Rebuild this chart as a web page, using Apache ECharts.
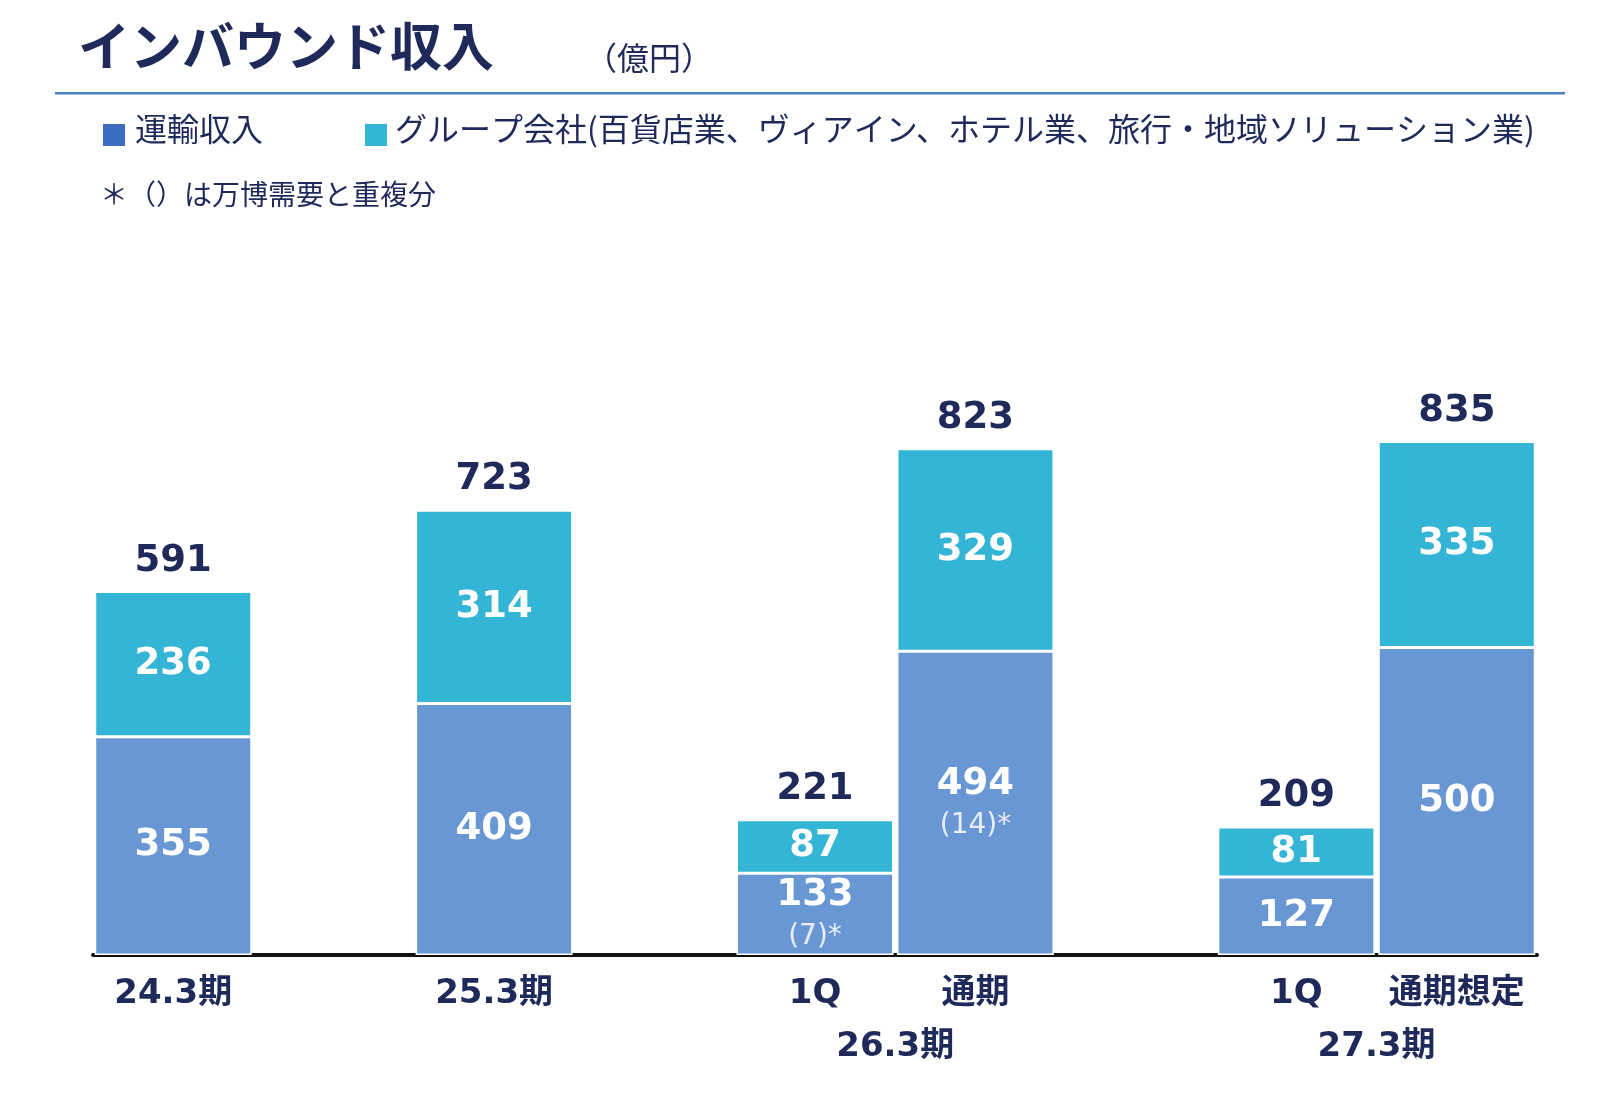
<!DOCTYPE html>
<html><head><meta charset="utf-8">
<script src="https://cdn.jsdelivr.net/npm/echarts@6/dist/echarts.min.js"></script>
<style>html,body{margin:0;background:#fff}#c{width:1600px;height:1109px}</style></head>
<body><div id="c"></div>
<script>
const categories = ['24.3期','','25.3期','','1Q','通期','','1Q','通期想定'];
const transport = [355,null,409,null,133,494,null,127,500];
const group = [236,null,314,null,87,329,null,81,335];
const totals = [591,null,723,null,221,823,null,209,835];
const overlap = [null,null,null,null,'(7)*','(14)*',null,null,null];
const groupLabels = [{text:'26.3期',from:4,to:5},{text:'27.3期',from:7,to:8}];

const F = '"DejaVu Sans","Noto Sans CJK JP",sans-serif';
const J = '"Noto Sans CJK JP",sans-serif';
const navy = '#1f2a5a';
const chart = echarts.init(document.getElementById('c'));
const baseGraphic = [
    {type:'text',id:'t1',left:78,top:20,style:{text:'インバウンド収入',font:'bold 52px '+J,fill:navy}},
    {type:'text',id:'t2',left:585,top:42,style:{text:'（億円）',font:'32px '+J,fill:navy}},
    {type:'rect',id:'r1',shape:{x:55,y:92,width:1510,height:2.5},style:{fill:'#4a7fc4'}},
    {type:'rect',id:'r2',shape:{x:103,y:124,width:22,height:22},style:{fill:'#3c6cc0'}},
    {type:'text',id:'t3',left:135,top:113,style:{text:'運輸収入',font:'32px '+J,fill:navy}},
    {type:'rect',id:'r3',shape:{x:365,y:124,width:22,height:22},style:{fill:'#35B5D5'}},
    {type:'text',id:'t4',left:395,top:113,style:{text:'グループ会社(百貨店業、ヴィアイン、ホテル業、旅行・地域ソリューション業)',font:'32px '+J,fill:navy}},
    {type:'text',id:'t5',left:100,top:180,style:{text:'＊（）は万博需要と重複分',font:'28px '+J,fill:navy}}
];
chart.setOption({
  animation:false,
  grid:{left:93,right:63,top:340,bottom:154},
  xAxis:{type:'category',data:categories,
    axisLine:{lineStyle:{color:'#111',width:4}},axisTick:{show:false},
    axisLabel:{interval:0,color:navy,fontFamily:F,fontWeight:'bold',fontSize:34,margin:22}},
  yAxis:{type:'value',min:0,max:1000,show:false,splitLine:{show:false}},
  series:[
    {type:'bar',stack:'s',data:transport,barWidth:157,
     itemStyle:{color:'#6897D3',borderColor:'#fff',borderWidth:1.5},
     label:{show:true,position:'inside',fontFamily:F,
       formatter:p=>overlap[p.dataIndex]?('{v|'+p.value+'}\n{s|'+overlap[p.dataIndex]+'}'):('{v|'+p.value+'}'),
       rich:{v:{color:'#fff',fontSize:37,fontWeight:'bold',fontFamily:F,lineHeight:46},
             s:{color:'#e8eef8',fontSize:28,fontFamily:F,lineHeight:38}}}},
    {type:'bar',stack:'s',data:group,barWidth:157,
     itemStyle:{color:'#35B5D5',borderColor:'#fff',borderWidth:1.5},
     label:{show:true,position:'inside',color:'#fff',fontSize:37,fontWeight:'bold',fontFamily:F}},
    {type:'bar',stack:'s',data:totals.map(v=>v==null?null:0),barWidth:157,
     itemStyle:{color:'transparent'},
     label:{show:true,position:'top',distance:12,color:navy,fontSize:37,fontWeight:'bold',fontFamily:F,
       formatter:p=>totals[p.dataIndex]}}
  ],
  graphic:baseGraphic
});
const extra = groupLabels.map((g,i)=>{
  const x = (chart.convertToPixel({xAxisIndex:0},g.from)+chart.convertToPixel({xAxisIndex:0},g.to))/2;
  return {type:'text',id:'g'+i,x:x,y:1030,style:{text:g.text,font:'bold 34px '+F,fill:navy,align:'center'}};
});
chart.setOption({graphic:baseGraphic.concat(extra)});
</script></body></html>
